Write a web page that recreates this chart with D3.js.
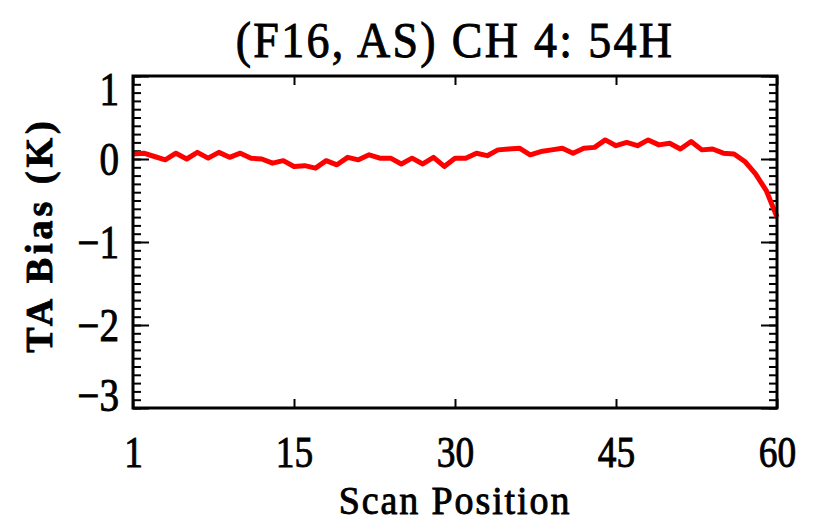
<!DOCTYPE html>
<html lang="en">
<head>
<meta charset="UTF-8">
<title>(F16, AS) CH 4: 54H</title>
<script src="https://cdnjs.cloudflare.com/ajax/libs/d3/7.8.5/d3.min.js"></script>
<style>
    body { margin: 0; background: #fff; }
    svg text { font-family: "Liberation Serif", "DejaVu Serif", serif; fill: #000; stroke: #000; stroke-width: 0.9; }
    .axis path { display: none; }
    .axis line { stroke: #000; stroke-width: 2; }
</style>
</head>
<body>
<svg id="chart" width="814" height="523"></svg>
<script>
// scan position along the axis (axis runs 0..60, first tick is labelled "1")
const scanPos = [0, 1, 2, 3, 4, 5, 6, 7, 8, 9, 10, 11, 12, 13, 14, 15, 16, 17, 18, 19, 20,
    21, 22, 23, 24, 25, 26, 27, 28, 29, 30, 31, 32, 33, 34, 35, 36, 37, 38, 39, 40,
    41, 42, 43, 44, 45, 46, 47, 48, 49, 50, 51, 52, 53, 54, 55, 56, 57, 58, 59, 60];

// TA bias (K)
const taBias = [0.06, 0.07, 0.03, -0.01, 0.07, 0.00, 0.08, 0.01, 0.08, 0.02, 0.07,
    0.01, 0.00, -0.05, -0.02, -0.09, -0.08, -0.11, -0.02, -0.07, 0.02,
    -0.01, 0.05, 0.01, 0.01, -0.06, 0.01, -0.06, 0.02, -0.09, 0.01,
    0.01, 0.07, 0.04, 0.11, 0.12, 0.13, 0.05, 0.09, 0.11, 0.13,
    0.07, 0.13, 0.14, 0.23, 0.16, 0.20, 0.16, 0.23, 0.17, 0.19,
    0.12, 0.21, 0.11, 0.12, 0.07, 0.06, -0.03, -0.18, -0.38, -0.70];

const xTickVals = [0, 15, 30, 45, 60];
const xTickLabels = ["1", "15", "30", "45", "60"];
const yTickVals = [-3, -2, -1, 0, 1];

const svg = d3.select("#chart");
const margin = {top: 76, right: 37, bottom: 115, left: 133};
const width = 814 - margin.left - margin.right;
const height = 523 - margin.top - margin.bottom;

const g = svg.append("g").attr("transform", `translate(${margin.left},${margin.top})`);

const x = d3.scaleLinear().domain([0, 60]).range([0, width]);
const y = d3.scaleLinear().domain([-3, 1]).range([height, 0]);

// minor y ticks every 0.1, both sides, pointing inward
const minorY = d3.range(-30, 11).map(d => d / 10);

g.append("g").attr("class", "axis")
    .call(d3.axisLeft(y).tickValues(minorY).tickSize(-8).tickFormat(""));
g.append("g").attr("class", "axis")
    .attr("transform", `translate(${width},0)`)
    .call(d3.axisRight(y).tickValues(minorY).tickSize(-8).tickFormat(""));

// major y ticks + labels (tall, narrow digits like the original)
const yAxis = g.append("g").attr("class", "axis")
    .call(d3.axisLeft(y).tickValues(yTickVals).tickSize(-16).tickFormat(""));
yAxis.selectAll(".tick").append("text")
    .attr("transform", "translate(-14,0) scale(0.85,1)")
    .attr("text-anchor", "end")
    .attr("font-size", 46)
    .attr("dy", d => d === 1 ? "0.62em" : d === -3 ? "0.06em" : "0.34em")
    .text(d => d < 0 ? "\u2212" + Math.abs(d) : d);
g.append("g").attr("class", "axis")
    .attr("transform", `translate(${width},0)`)
    .call(d3.axisRight(y).tickValues(yTickVals).tickSize(-16).tickFormat(""));

// x ticks top and bottom
const xAxis = g.append("g").attr("class", "axis")
    .attr("transform", `translate(0,${height})`)
    .call(d3.axisBottom(x).tickValues(xTickVals).tickSize(-9).tickFormat(""));
xAxis.selectAll(".tick").append("text")
    .attr("transform", "translate(0,59) scale(0.85,1)")
    .attr("text-anchor", "middle")
    .attr("font-size", 44)
    .text((d, i) => xTickLabels[i]);
g.append("g").attr("class", "axis")
    .call(d3.axisTop(x).tickValues(xTickVals).tickSize(-9).tickFormat(""));

// data line
const line = d3.line()
    .x((d, i) => x(scanPos[i]))
    .y(d => y(d));

g.append("path")
    .datum(taBias)
    .attr("fill", "none")
    .attr("stroke", "#ff0000")
    .attr("stroke-width", 5)
    .attr("stroke-linejoin", "round")
    .attr("d", line);

// frame
g.append("rect")
    .attr("width", width)
    .attr("height", height)
    .attr("fill", "none")
    .attr("stroke", "#000")
    .attr("stroke-width", 3);

// title
svg.append("text")
    .attr("transform", `translate(${margin.left + width / 2},57) scale(0.92,1)`)
    .attr("text-anchor", "middle")
    .attr("font-size", 50)
    .attr("letter-spacing", 2.5)
    .text("(F16, AS) CH 4: 54H");

// axis titles
svg.append("text")
    .attr("transform", `translate(${margin.left + width / 2},514) scale(0.95,1)`)
    .attr("text-anchor", "middle")
    .attr("font-size", 40)
    .attr("letter-spacing", 2)
    .text("Scan Position");

svg.append("text")
    .attr("transform", `translate(52,${margin.top + height / 2 - 7}) rotate(-90)`)
    .attr("text-anchor", "middle")
    .attr("font-size", 38)
    .attr("font-weight", "bold")
    .attr("stroke-width", 0)
    .attr("letter-spacing", 4)
    .text("TA Bias (K)");
</script>
</body>
</html>
